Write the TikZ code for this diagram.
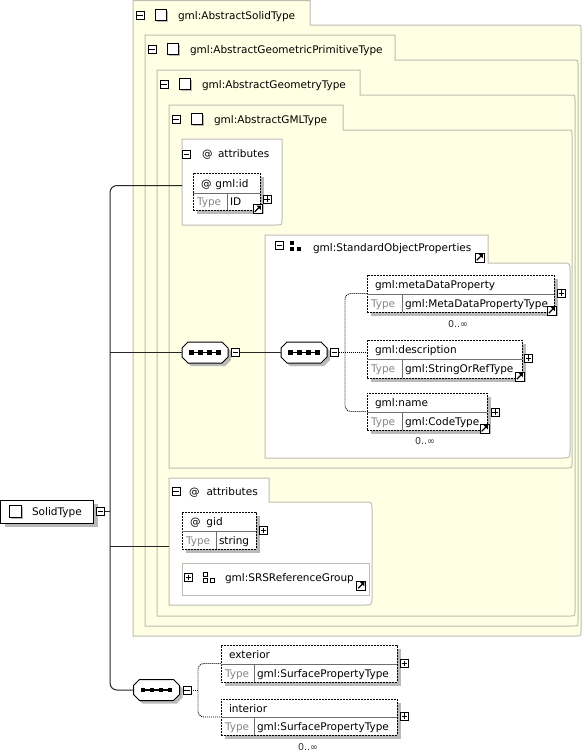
\documentclass[tikz,border=0pt]{standalone}
\usepackage{fontspec}
\setmainfont{DejaVu Sans}
\usetikzlibrary{calc,shadows}
\definecolor{cream}{RGB}{255,255,228}
\definecolor{boxgray}{RGB}{190,190,178}
\definecolor{shadowgray}{RGB}{185,185,185}
\definecolor{typegray}{RGB}{135,135,135}
\definecolor{divgray}{RGB}{110,110,110}
\tikzset{
 txt/.style={anchor=base west, inner sep=0pt, outer sep=0pt, font=\fontsize{10.5}{12}\selectfont, text=black},
 typetxt/.style={txt, text=typegray},
 occ/.style={anchor=base, inner sep=0pt, font=\fontsize{9.5}{11}\selectfont, text=black!80},
 elem/.style={draw=black, line width=0.9pt, dash pattern=on 2pt off 1pt, fill=white, inner sep=0pt, general shadow={fill=shadowgray, shadow xshift=4pt, shadow yshift=-4pt}},
 divline/.style={draw=divgray, line width=0.9pt},
 pmbox/.style={draw=black, fill=white, line width=0.9pt, minimum size=8pt, inner sep=0pt},
 linkbox/.style={draw=black, fill=white, line width=0.9pt, minimum size=9pt, inner sep=0pt},
 typeicon/.style={draw=black, fill=white, line width=0.9pt, minimum size=11pt, inner sep=0pt, general shadow={fill=shadowgray, shadow xshift=1.5pt, shadow yshift=-1.5pt}},
 stbox/.style={draw=black, fill=white, line width=1pt, inner sep=0pt, general shadow={fill=shadowgray, shadow xshift=4pt, shadow yshift=-4pt}},
 srsbox/.style={draw=boxgray, fill=white, line width=1pt, inner sep=0pt},
 compbox/.style={inner sep=0pt, minimum width=46pt, minimum height=21pt},
 conn/.style={draw=black!85, line width=1pt},
 dotc/.style={draw=black, line width=0.9pt, dash pattern=on 1pt off 1pt},
 gbox/.style={draw=boxgray, line width=1pt},
}
% L, tabTop, tabRight, bodyTop, Right, Bottom, fill, radius
\newcommand\TabBox[8]{\path[gbox, fill=#7] (#1,#2) -- (#3,#2) -- (#3,#4) -- ({#5-#8},#4) .. controls (#5,#4) .. (#5,{#4+#8}) -- (#5,{#6-#8}) .. controls (#5,#6) .. ({#5-#8},#6) -- (#1,#6) -- cycle;}
% L, T, R, B, fill, radius
\newcommand\RBox[6]{\path[gbox, fill=#5] (#1,#2) -- (#3,#2) -- (#3,{#4-#6}) .. controls (#3,#4) .. ({#3-#6},#4) -- (#1,#4) -- cycle;}
\newcommand\MinusAt[3]{\node[pmbox] (#1) at ({#2},{#3}) {};\draw[line width=0.9pt] ($(#1.west)+(1.8pt,0pt)$) -- ($(#1.east)+(-1.8pt,0pt)$);}
\newcommand\PlusAt[3]{\MinusAt{#1}{#2}{#3}\draw[line width=0.9pt] ($(#1.north)+(0pt,-1.8pt)$) -- ($(#1.south)+(0pt,1.8pt)$);}
\newcommand\LinkAt[3]{\node[linkbox] (#1) at ({#2},{#3}) {};\draw[line width=1.3pt] ($(#1.south west)+(2.2pt,2.2pt)$) -- ($(#1.north east)+(-3pt,-3pt)$);\fill ($(#1.north east)+(-1.6pt,-1.6pt)$) -- ++(-4.2pt,0pt) -- ++(4.2pt,-4.2pt) -- cycle;}
% name, L, tabTop, text
\newcommand\TabHead[4]{\MinusAt{#1m}{#2+7}{#3+14.5}\node[typeicon] (#1i) at ({#2+27.5},{#3+13.5}) {};\node[txt] (#1t) at ({#2+45},{#3+18.5}) {#4};}
% name, L, T, R, B, divY, typeX, label, type
\newcommand\Elem[9]{%
 \node[elem, minimum width={#4-#2}, minimum height={#5-#3}] (#1) at ({(#2+#4)/2},{(#3+#5)/2}) {};%
 \draw[divline] ({#2},{#6}) -- ({#4},{#6});%
 \draw[divline] ({#7},{#6}) -- ({#7},{#5});%
 \node[txt] (#1n) at ({#2+8},{(#3+#6)/2+4}) {#8};%
 \node[typetxt] (#1k) at ({#2+4},{(#6+#5)/2+4}) {Type};%
 \node[txt] (#1v) at ({#7+3},{(#6+#5)/2+4}) {#9};}
% name, cx, cy
\newcommand\CompAt[3]{%
 \begin{scope}[shift={(#2,#3)}]
  \fill[shadowgray, shift={(3,3)}] (-17,-10.5) -- (17,-10.5) -- (23,-4.5) -- (23,4.5) -- (17,10.5) -- (-17,10.5) -- (-23,4.5) -- (-23,-4.5) -- cycle;
  \draw[black, fill=white, line width=1pt] (-17,-10.5) -- (17,-10.5) -- (23,-4.5) -- (23,4.5) -- (17,10.5) -- (-17,10.5) -- (-23,4.5) -- (-23,-4.5) -- cycle;
  \node[compbox] (#1) at (0,0) {};
  \draw[line width=1.4pt] (-15,0) -- (15,0);
  \foreach \dx in {-13.5,-4.5,4.5,13.5} {\fill ({\dx-2.2},-2.2) rectangle ++(4.4,4.4);}
 \end{scope}}
\begin{document}
\begin{tikzpicture}[x=1pt,y=-1pt]
\useasboundingbox (0,0) rectangle (583,755);
\fill[white] (0,0) rectangle (583,755);
% nested type boxes
\TabBox{133}{0.5}{310}{25}{581}{636}{cream}{5}
\TabBox{145}{35}{395}{60}{578}{626}{cream}{5}
\TabBox{157}{70}{360}{95}{575}{616}{cream}{5}
\TabBox{169}{105}{343}{130}{572}{468}{cream}{5}
\TabHead{tsolid}{133}{1}{gml:AbstractSolidType}
\TabHead{tprim}{145}{35}{gml:AbstractGeometricPrimitiveType}
\TabHead{tgeom}{157}{70}{gml:AbstractGeometryType}
\TabHead{tgml}{169}{105}{gml:AbstractGMLType}
% attributes (gml:id)
\RBox{182}{139}{282}{225}{white}{6}
\MinusAt{a1m}{186.5}{154}
\node[txt] (a1at) at (202,157) {@};
\node[txt] (a1t) at (218,157) {attributes};
\coordinate (a1in) at (182,185.5);
\Elem{gmlid}{193}{173}{260}{210}{193}{227}{@\hspace{4pt}gml:id}{ID}
\PlusAt{gmlidp}{267}{199}
\LinkAt{gmlidl}{257.5}{209}
% StandardObjectProperties group
\TabBox{265}{235}{488}{263}{570}{458}{white}{8}
\MinusAt{gm}{279.5}{245.5}
\fill (290,241) rectangle (294,245);
\fill (290,247) rectangle (294,251);
\fill (297,247) rectangle (301,251);
\node[txt] (gt) at (313,251) {gml:StandardObjectProperties};
\LinkAt{gl}{479.5}{257.5}
\Elem{mdp}{367}{275}{554}{312}{294}{402}{gml:metaDataProperty}{gml:MetaDataPropertyType}
\PlusAt{mdpp}{561.5}{293}
\LinkAt{mdpl}{551.5}{310.5}
\node[occ] (mdpo) at (458,327) {0..∞};
\Elem{desc}{367}{340}{522}{378}{359}{402}{gml:description}{gml:StringOrRefType}
\PlusAt{descp}{528.5}{358}
\LinkAt{descl}{519.5}{376.5}
\Elem{nm}{367}{393}{487}{430}{412}{402}{gml:name}{gml:CodeType}
\PlusAt{nmp}{495}{412}
\LinkAt{nml}{484.5}{428.5}
\node[occ] (nmo) at (425,444.5) {0..∞};
% sequences
\CompAt{c1}{205}{352.5}
\MinusAt{m1}{235.5}{352.5}
\CompAt{c2}{304}{352.5}
\MinusAt{m2}{334.5}{352.5}
% attributes (gid)
\TabBox{169}{478}{269}{502}{372}{605}{white}{8}
\MinusAt{a2m}{176}{491.5}
\node[txt] (a2at) at (189,495) {@};
\node[txt] (a2t) at (206.5,495) {attributes};
\coordinate (a2in) at (169,546);
\Elem{gid}{182}{512}{256}{549}{531}{216}{@\hspace{6pt}gid}{string}
\PlusAt{gidp}{263.5}{530.5}
\node[srsbox, minimum width=187, minimum height=32] (srs) at (275.5,579) {};
\PlusAt{srsp}{188.5}{577.5}
\draw[line width=0.8pt] (203,572) rectangle (207,576);
\draw[line width=0.8pt] (203,578) rectangle (207,582);
\draw[line width=0.8pt] (210,578) rectangle (214,582);
\node[txt] (srst) at (225,581) {gml:SRSReferenceGroup};
\LinkAt{srsl}{361}{585.5}
% root
\node[stbox, minimum width=93, minimum height=23] (st) at (47,511.5) {};
\node[typeicon, minimum size=12] (sti) at (15.5,511) {};
\node[txt] (stt) at (32,515.5) {SolidType};
\MinusAt{stm}{100.5}{511.5}
% bottom sequence
\CompAt{c3}{156.5}{690}
\MinusAt{m3}{187}{690}
\Elem{ext}{221}{645}{397}{682}{664.5}{254}{exterior}{gml:SurfacePropertyType}
\PlusAt{extp}{404.5}{663.5}
\Elem{int}{221}{699}{397}{735}{717}{254}{interior}{gml:SurfacePropertyType}
\PlusAt{intp}{404.5}{716}
\node[occ] (into) at (308,750) {0..∞};
% connectors
\coordinate (tb) at (110,690);
\draw[conn, rounded corners=7pt] (a1in) -| (tb) -- (c3.west);
\draw[conn] (c1.west) -- (c1.west -| tb);
\draw[conn] (a2in) -- (a2in -| tb);
\draw[conn] (stm.east) -- (stm.east -| tb);
\draw[conn] (m1.east) -- (c2.west);
\coordinate (gv) at (345,352.5);
\draw[dotc] (m2.east) -- (m2.east -| desc.west);
\draw[dotc, rounded corners=6pt] (mdp.west) -| (gv) |- (nm.west);
\coordinate (bv) at (198,690);
\draw[dotc] (m3.east) -- (bv);
\draw[dotc, rounded corners=6pt] (ext.west) -| (bv) |- (int.west);
\end{tikzpicture}
\end{document}
